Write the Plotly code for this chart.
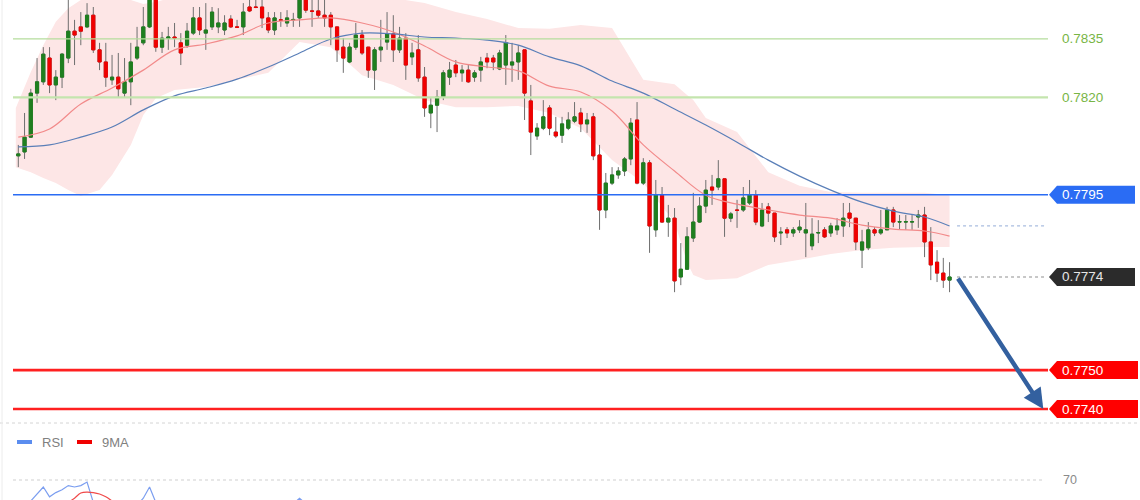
import plotly.graph_objects as go

# ---------------- data ----------------
opens = [.78050,.78060,.78098,.78211,.78240,.78301,.78232,.78252,.78301,.78370,
         .78381,.78381,.78411,.78322,.78291,.78245,.78252,.78211,.78240,.78301,
         .78340,.78381,.78460,.78329,.78352,.78355,.78340,.78334,.78365,.78404,
         .78365,.78381,.78381,.78373,.78401,.78381,.78381,.78432,.78432,.78432,
         .78404,.78373,.78399,.78391,.78399,.78404,.78455,.78422,.78422,.78411,
         .78411,.78381,.78329,.78291,.78329,.78360,.78329,.78270,.78322,.78342,
         .78363,.78322,.78352,.78304,.78322,.78252,.78160,.78180,.78201,.78252,
         .78283,.78263,.78270,.78252,.78270,.78301,.78301,.78273,.78283,.78283,
         .78291,.78322,.78191,.78101,.78121,.78173,.78111,.78103,.78121,.78139,
         .78160,.78132,.78150,.78052,.77911,.77980,.78001,.78011,.78042,.78142,
         .77980,.78032,.77860,.77949,.77880,.77890,.77739,.77759,.77839,.77880,
         .77921,.77970,.77970,.77991,.77890,.77911,.77911,.77929,.77949,.77870,
         .77919,.77903,.77852,.77860,.77852,.77860,.77852,.77819,.77852,.77860,
         .77852,.77860,.77870,.77903,.77890,.77808,.77814,.77860,.77852,.77860,
         .77911,.77880,.77880,.77880,.77893,.77898,.77829,.77777,.77749,.77731]
highs = [.78078,.78160,.78222,.78301,.78329,.78329,.78270,.78314,.78460,.78399,
         .78419,.78442,.78432,.78340,.78340,.78309,.78314,.78301,.78340,.78381,
         .78432,.78470,.78470,.78368,.78381,.78391,.78365,.78391,.78432,.78432,
         .78442,.78432,.78429,.78411,.78411,.78399,.78442,.78450,.78455,.78455,
         .78419,.78419,.78419,.78424,.78417,.78465,.78465,.78450,.78450,.78450,
         .78419,.78381,.78352,.78340,.78391,.78373,.78329,.78329,.78399,.78419,
         .78411,.78381,.78365,.78340,.78360,.78278,.78198,.78219,.78270,.78291,
         .78296,.78283,.78283,.78270,.78304,.78314,.78309,.78322,.78360,.78340,
         .78334,.78322,.78232,.78134,.78193,.78180,.78150,.78150,.78162,.78188,
         .78173,.78160,.78160,.78078,.78006,.78021,.78021,.78047,.78147,.78188,
         .78044,.78039,.77988,.77970,.77924,.77916,.77826,.77867,.77955,.77944,
         .77988,.78001,.78039,.77991,.77906,.77937,.77970,.77988,.77962,.77929,
         .77929,.77903,.77867,.77867,.77867,.77885,.77929,.77890,.77885,.77867,
         .77878,.77890,.77929,.77929,.77890,.77860,.77880,.77867,.77911,.77919,
         .77919,.77898,.77898,.77898,.77911,.77919,.77867,.77808,.77788,.77777]
lows = [.78021,.78042,.78096,.78186,.78232,.78211,.78193,.78224,.78288,.78283,
        .78334,.78378,.78314,.78270,.78227,.78232,.78201,.78201,.78180,.78296,
        .78334,.78378,.78317,.78314,.78322,.78329,.78283,.78327,.78360,.78360,
        .78322,.78373,.78365,.78360,.78378,.78378,.78360,.78419,.78429,.78378,
        .78365,.78360,.78381,.78381,.78381,.78381,.78417,.78381,.78404,.78381,
        .78334,.78291,.78263,.78288,.78322,.78309,.78250,.78219,.78291,.78322,
        .78291,.78314,.78245,.78283,.78240,.78150,.78121,.78111,.78193,.78232,
        .78252,.78240,.78237,.78240,.78240,.78275,.78270,.78270,.78232,.78240,
        .78245,.78142,.78052,.78091,.78116,.78103,.78096,.78083,.78116,.78134,
        .78111,.78109,.78039,.77860,.77890,.77975,.77991,.77998,.78026,.77977,
        .77975,.77801,.77842,.77878,.77842,.77700,.77718,.77757,.77829,.77878,
        .77903,.77924,.77962,.77842,.77880,.77865,.77906,.77924,.77872,.77867,
        .77880,.77829,.77821,.77839,.77842,.77852,.77790,.77808,.77826,.77839,
        .77842,.77847,.77842,.77867,.77808,.77762,.77808,.77844,.77847,.77860,
        .77867,.77860,.77860,.77860,.77865,.77790,.77731,.77726,.77711,.77700]
closes = [.78055,.78098,.78211,.78240,.78311,.78232,.78252,.78311,.78370,.78360,
          .78370,.78411,.78322,.78291,.78252,.78252,.78222,.78240,.78291,.78329,
          .78381,.78460,.78329,.78352,.78355,.78352,.78314,.78370,.78404,.78373,
          .78373,.78419,.78391,.78391,.78381,.78380,.78419,.78422,.78431,.78404,
          .78373,.78404,.78398,.78404,.78400,.78455,.78424,.78421,.78411,.78404,
          .78381,.78322,.78301,.78329,.78360,.78314,.78270,.78322,.78329,.78363,
          .78322,.78352,.78283,.78314,.78250,.78173,.78180,.78201,.78263,.78270,
          .78263,.78270,.78240,.78263,.78291,.78291,.78291,.78314,.78340,.78291,
          .78314,.78211,.78111,.78121,.78150,.78121,.78101,.78132,.78142,.78150,
          .78132,.78142,.78050,.77911,.77980,.78001,.78011,.78042,.78134,.77980,
          .78032,.77870,.77949,.77880,.77890,.77729,.77759,.77842,.77880,.77921,
          .77962,.77962,.77991,.77890,.77901,.77910,.77942,.77949,.77880,.77911,
          .77903,.77842,.77854,.77852,.77860,.77867,.77860,.77849,.77853,.77842,
          .77870,.77870,.77890,.77890,.77829,.77829,.77860,.77852,.77860,.77911,
          .77880,.77881,.77881,.77881,.77898,.77829,.77770,.77749,.77731,.77739]
bar_index = list(range(len(closes)))

ma_index = list(range(0, 150, 5)) + [149]
ma_fast = [.78098,.78119,.78183,.78224,.78270,.78322,.78337,.78358,.78391,.78399,
           .78404,.78391,.78368,.78332,.78291,.78278,.78268,.78229,.78214,.78165,
           .78078,.78011,.77949,.77926,.77911,.77898,.77890,.77872,.77862,.77857,.77844]
ma_slow = [.78073,.78078,.78098,.78124,.78168,.78204,.78224,.78247,.78278,.78314,
           .78350,.78365,.78363,.78355,.78352,.78347,.78334,.78304,.78281,.78242,
           .78211,.78170,.78129,.78085,.78039,.77998,.77962,.77931,.77908,.77893,.77870]

band_index = [-0.4, 2, 4, 6, 8, 10, 13, 15, 18, 20, 22, 25, 30, 35, 40, 45, 50, 55, 60, 65,
              70, 75, 80, 85, 90, 95, 100, 105, 107, 108, 110, 115, 120, 125, 130, 135, 140, 145, 149]
band_upper = [.78173,.78265,.78334,.78394,.78429,.78450,.78458,.78458,.78450,.78440,
              .78445,.78458,.78463,.78463,.78463,.78458,.78450,.78450,.78455,.78442,
              .78419,.78401,.78378,.78376,.78386,.78378,.78245,.78234,.78206,.78193,
              .78147,.78111,.78008,.77973,.77957,.77955,.77955,.77955,.77949]
band_lower = [.78021,.78008,.77993,.77980,.77962,.77947,.77962,.78001,.78078,.78155,
              .78198,.78219,.78227,.78245,.78263,.78342,.78329,.78257,.78232,.78193,
              .78175,.78175,.78178,.78160,.78121,.78039,.77980,.77880,.77777,.77744,
              .77731,.77736,.77770,.77783,.77798,.77808,.77814,.77816,.77816]

levels_green = [0.7835, 0.7820]
level_blue = 0.7795
levels_red = [0.7750, 0.7740]
target_offset = 15   # arrow end, bars after the last one

rsi_index = list(range(1, 24)) + [None, 44, 45, 46]
rsi_values = [50, 55, 60, 65, 58, 61, 63, 66, 65, 66, 68.5, 54, 50, 46, 44, 45, 43, 46, 52,
              57, 65, 54, 50, None, 53, 57, 53]
ma9_index = [8, 9, 10, 11, 12, 13, 14, 15, 16]
ma9_values = [54, 57, 60.7, 61.4, 61, 60, 58, 55, 52]
rsi_level = 70

# ---------------- layout helpers ----------------
W, H = 1140, 500
PX_STEP = 6.25
X0_PX = 18.3
Y_TOP, Y_BOT = 0.7845, 0.773719
MAIN_H = 420
PRICE_PER_PX = (Y_TOP - Y_BOT) / MAIN_H

def px_to_k(px):
    return (px - X0_PX) / PX_STEP

def xp(px):
    return px / W

def yp(px):
    return 1 - px / H

FONT = "Liberation Sans, Arial, sans-serif"

fig = go.Figure()
shapes = []
annotations = []

# Bollinger band as a filled region beneath the candles
pts = [f"{k},{v}" for k, v in zip(band_index, band_upper)]
pts += [f"{k},{v}" for k, v in zip(band_index[::-1], band_lower[::-1])]
shapes.append(dict(type="path", xref="x", yref="y", layer="below",
                   path="M " + " L ".join(pts) + " Z",
                   fillcolor="#fde6e6", line=dict(width=0)))

# moving averages
fig.add_trace(go.Scatter(x=ma_index, y=ma_fast, mode="lines",
                         line=dict(color="#f28a8a", width=1.2, shape="spline"), showlegend=False))
fig.add_trace(go.Scatter(x=ma_index, y=ma_slow, mode="lines",
                         line=dict(color="#5a7fb8", width=1.2, shape="spline"), showlegend=False))

# wicks
wick = "#6e6e6e"
fig.add_trace(go.Candlestick(x=bar_index, open=opens, high=highs, low=lows, close=closes,
                             increasing=dict(line=dict(color=wick, width=1), fillcolor=wick),
                             decreasing=dict(line=dict(color=wick, width=1), fillcolor=wick),
                             whiskerwidth=0, showlegend=False, hoverinfo="skip"))
# bodies
body_hi = [max(o, c) for o, c in zip(opens, closes)]
body_lo = [min(o, c) for o, c in zip(opens, closes)]
green, red = "#1f7f1f", "#f00000"
fig.add_trace(go.Candlestick(x=bar_index, open=opens, high=body_hi, low=body_lo, close=closes,
                             increasing=dict(line=dict(color=green, width=1), fillcolor=green),
                             decreasing=dict(line=dict(color=red, width=1), fillcolor=red),
                             whiskerwidth=0, showlegend=False))

# RSI panel
fig.add_trace(go.Scatter(x=rsi_index, y=rsi_values, yaxis="y2", mode="lines",
                         line=dict(color="#7b9ef0", width=1.2), connectgaps=False, showlegend=False))
fig.add_trace(go.Scatter(x=ma9_index, y=ma9_values, yaxis="y2", mode="lines",
                         line=dict(color="#f04a4a", width=1.2, shape="spline"), showlegend=False))

line_x0, line_x1 = xp(13), xp(1048)

for lv in levels_green:
    shapes.append(dict(type="line", xref="paper", yref="y", x0=line_x0, x1=line_x1, y0=lv, y1=lv,
                       line=dict(color="#b5dd9c" if lv == levels_green[0] else "#c4e5ae",
                                 width=1.3 if lv == levels_green[0] else 2.2)))
    annotations.append(dict(xref="paper", yref="y", x=xp(1060), y=lv, text=f"{lv:.4f}",
                            showarrow=False, xanchor="left", yanchor="middle",
                            font=dict(family=FONT, size=13.5, color="#78b545")))

shapes.append(dict(type="line", xref="paper", yref="y", x0=line_x0, x1=line_x1,
                   y0=level_blue, y1=level_blue, line=dict(color="#2a6cf4", width=1.5)))
for lv in levels_red:
    shapes.append(dict(type="line", xref="paper", yref="y", x0=line_x0, x1=line_x1, y0=lv, y1=lv,
                       line=dict(color="#ff2020", width=2.6)))

last_k = bar_index[-1]
last_close = closes[-1]
# dotted guides from the last bar
shapes.append(dict(type="line", xref="x", yref="y", x0=last_k + 1.2, x1=px_to_k(1047),
                   y0=ma_slow[-1], y1=ma_slow[-1], line=dict(color="#a9bde0", width=1.2, dash="dot")))
shapes.append(dict(type="line", xref="x", yref="y", x0=last_k + 1.2, x1=px_to_k(1047),
                   y0=last_close, y1=last_close, line=dict(color="#8f8f8f", width=1.2, dash="dot")))


def label_box(val, color, right_px, text_color="white"):
    h = 9 * PRICE_PER_PX
    tip, b, r = xp(1049), xp(1057), xp(right_px)
    path = (f"M {tip},{val} L {b},{val + h} L {r},{val + h} L {r},{val - h} "
            f"L {b},{val - h} Z")
    shapes.append(dict(type="path", xref="paper", yref="y", path=path, fillcolor=color,
                       line=dict(width=0), layer="above"))
    annotations.append(dict(xref="paper", yref="y", x=xp(1060), y=val, text=f"{val:.4f}",
                            showarrow=False, xanchor="left", yanchor="middle",
                            font=dict(family=FONT, size=13.5, color=text_color)))


label_box(level_blue, "#2a6cf4", 1135)
label_box(last_close, "#2b2b2b", 1135, "#e6e6e6")
for lv in levels_red:
    label_box(lv, "#ff0000", 1138)

# forecast arrow
annotations.append(dict(x=last_k + target_offset, y=levels_red[-1], xref="x", yref="y",
                        ax=last_k + 1.2, ay=last_close, axref="x", ayref="y",
                        showarrow=True, arrowhead=2, arrowsize=0.9, arrowwidth=4.5,
                        arrowcolor="#33609f", standoff=0, text=""))

# panel separator and RSI 70 level
shapes.append(dict(type="line", xref="paper", yref="paper", x0=0, x1=1, y0=yp(423), y1=yp(423),
                   line=dict(color="#d4d4d4", width=1, dash="dot")))
shapes.append(dict(type="line", xref="paper", yref="y2", x0=line_x0, x1=xp(1045),
                   y0=rsi_level, y1=rsi_level, line=dict(color="#cfcfcf", width=1, dash="dot")))
annotations.append(dict(xref="paper", yref="y2", x=xp(1061), y=rsi_level, text=str(rsi_level),
                        showarrow=False, xanchor="left", yanchor="middle",
                        font=dict(family=FONT, size=12.5, color="#8a8a8a")))
# left border
shapes.append(dict(type="line", xref="paper", yref="paper", x0=xp(2), x1=xp(2), y0=0, y1=1,
                   line=dict(color="#ececec", width=1)))

# RSI legend
for sx, col, label, tx in [(17, "#5b8def", "RSI", 40), (77, "#f00000", "9MA", 100)]:
    shapes.append(dict(type="rect", xref="paper", yref="paper", x0=xp(sx), x1=xp(sx + 15),
                       y0=yp(444), y1=yp(440), fillcolor=col, line=dict(width=0)))
    annotations.append(dict(xref="paper", yref="paper", x=xp(tx), y=yp(442), text=label,
                            showarrow=False, xanchor="left", yanchor="middle",
                            font=dict(family=FONT, size=13, color="#808080")))

axis_off = dict(showgrid=False, zeroline=False, showticklabels=False, showline=False,
                ticks="", fixedrange=True)
fig.update_layout(
    width=W, height=H, margin=dict(l=0, r=0, t=0, b=0),
    paper_bgcolor="white", plot_bgcolor="white",
    showlegend=False, boxgap=0.28,
    xaxis=dict(range=[px_to_k(0), px_to_k(W)], domain=[0, 1],
               rangeslider=dict(visible=False), **axis_off),
    yaxis=dict(range=[Y_BOT, Y_TOP], domain=[1 - MAIN_H / H, 1], **axis_off),
    yaxis2=dict(range=[55.714, 109.286], domain=[0, 1 - 425 / H], anchor="x", **axis_off),
    shapes=shapes, annotations=annotations,
)

fig.write_html("out.html", config={"displayModeBar": False},
               post_script="document.body.style.margin='0';document.body.style.overflow='hidden';")
